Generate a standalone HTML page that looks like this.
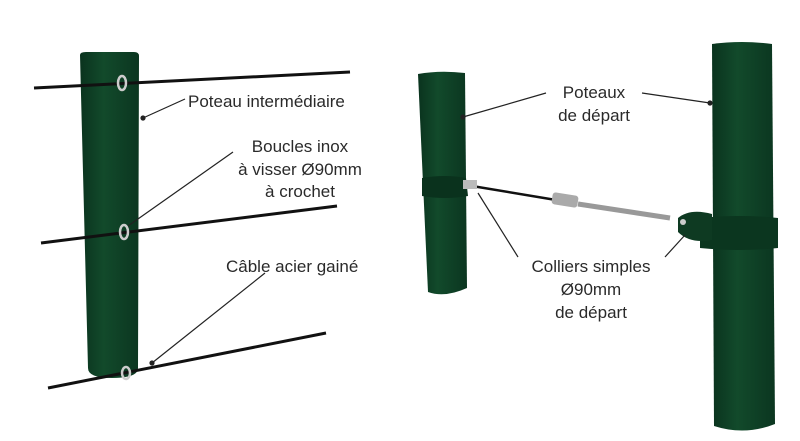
<!DOCTYPE html>
<html><head><meta charset="utf-8"><style>
html,body{margin:0;padding:0;background:#fff;width:800px;height:441px;overflow:hidden}
svg{display:block}
text{font-family:"Liberation Sans",sans-serif;font-size:17px;fill:#2a2a2a}
</style></head><body>
<svg width="800" height="441" viewBox="0 0 800 441">
<defs>
<linearGradient id="g" x1="0" x2="1" y1="0" y2="0">
<stop offset="0" stop-color="#0a331e"/><stop offset="0.4" stop-color="#124a2b"/><stop offset="1" stop-color="#0b3620"/>
</linearGradient>
</defs>
<path d="M80 55 Q80 52 86 52 L134 52 Q139 52 139 56 L138 368 Q138 378 112 378 Q88 378 88 368 Z" fill="url(#g)"/>
<line x1="34" y1="88" x2="350" y2="72" stroke="#111" stroke-width="3"/>
<line x1="41" y1="243" x2="337" y2="206" stroke="#111" stroke-width="3"/>
<line x1="48" y1="388" x2="326" y2="333" stroke="#111" stroke-width="3"/>
<ellipse cx="122" cy="83" rx="4" ry="7" fill="none" stroke="#ccc" stroke-width="2.5"/>
<ellipse cx="124" cy="232" rx="4" ry="7" fill="none" stroke="#ccc" stroke-width="2.5"/>
<ellipse cx="126" cy="373" rx="4" ry="6" fill="none" stroke="#ccc" stroke-width="2.5"/>
<path d="M418 74 Q440 70 465 73 L467 288 Q445 298 428 292 Z" fill="url(#g)"/>
<path d="M422 178 Q445 174 466 178 L468 196 Q445 200 422 196 Z" fill="#0a321d"/>
<path d="M712 44 Q742 40 772 44 L775 424 Q745 436 714 426 Z" fill="url(#g)"/>
<path d="M700 218 Q740 214 778 218 L778 248 Q740 252 700 248 Z" fill="#0b361f"/>
<path d="M678 218 Q690 208 712 214 L712 240 Q690 244 678 232 Z" fill="#0e3a22"/>
<line x1="466" y1="185" x2="556" y2="200" stroke="#111" stroke-width="2.5"/>
<rect x="463" y="180" width="14" height="9" fill="#bbb"/>
<rect x="552" y="194" width="26" height="12" rx="3" fill="#aaa" transform="rotate(9 565 200)"/>
<line x1="578" y1="204" x2="670" y2="218" stroke="#999" stroke-width="5"/>
<circle cx="683" cy="222" r="3" fill="#ccc"/>
<g stroke="#222" stroke-width="1.2" fill="#222">
<line x1="185" y1="99" x2="143" y2="118"/><circle cx="143" cy="118" r="2"/>
<line x1="233" y1="152" x2="128" y2="226"/>
<line x1="265" y1="273" x2="152" y2="363"/><circle cx="152" cy="363" r="2"/>
<line x1="546" y1="93" x2="463" y2="117"/><circle cx="463" cy="117" r="2"/>
<line x1="642" y1="93" x2="710" y2="103"/><circle cx="710" cy="103" r="2"/>
<line x1="518" y1="257" x2="478" y2="193"/>
<line x1="665" y1="257" x2="685" y2="235"/>
</g>
<text x="188" y="107">Poteau intermédiaire</text>
<text x="300" y="152" text-anchor="middle">Boucles inox</text>
<text x="300" y="175" text-anchor="middle">à visser Ø90mm</text>
<text x="300" y="197" text-anchor="middle">à crochet</text>
<text x="226" y="272">Câble acier gainé</text>
<text x="594" y="98" text-anchor="middle">Poteaux</text>
<text x="594" y="121" text-anchor="middle">de départ</text>
<text x="591" y="272" text-anchor="middle">Colliers simples</text>
<text x="591" y="295" text-anchor="middle">Ø90mm</text>
<text x="591" y="318" text-anchor="middle">de départ</text>
</svg>
</body></html>
